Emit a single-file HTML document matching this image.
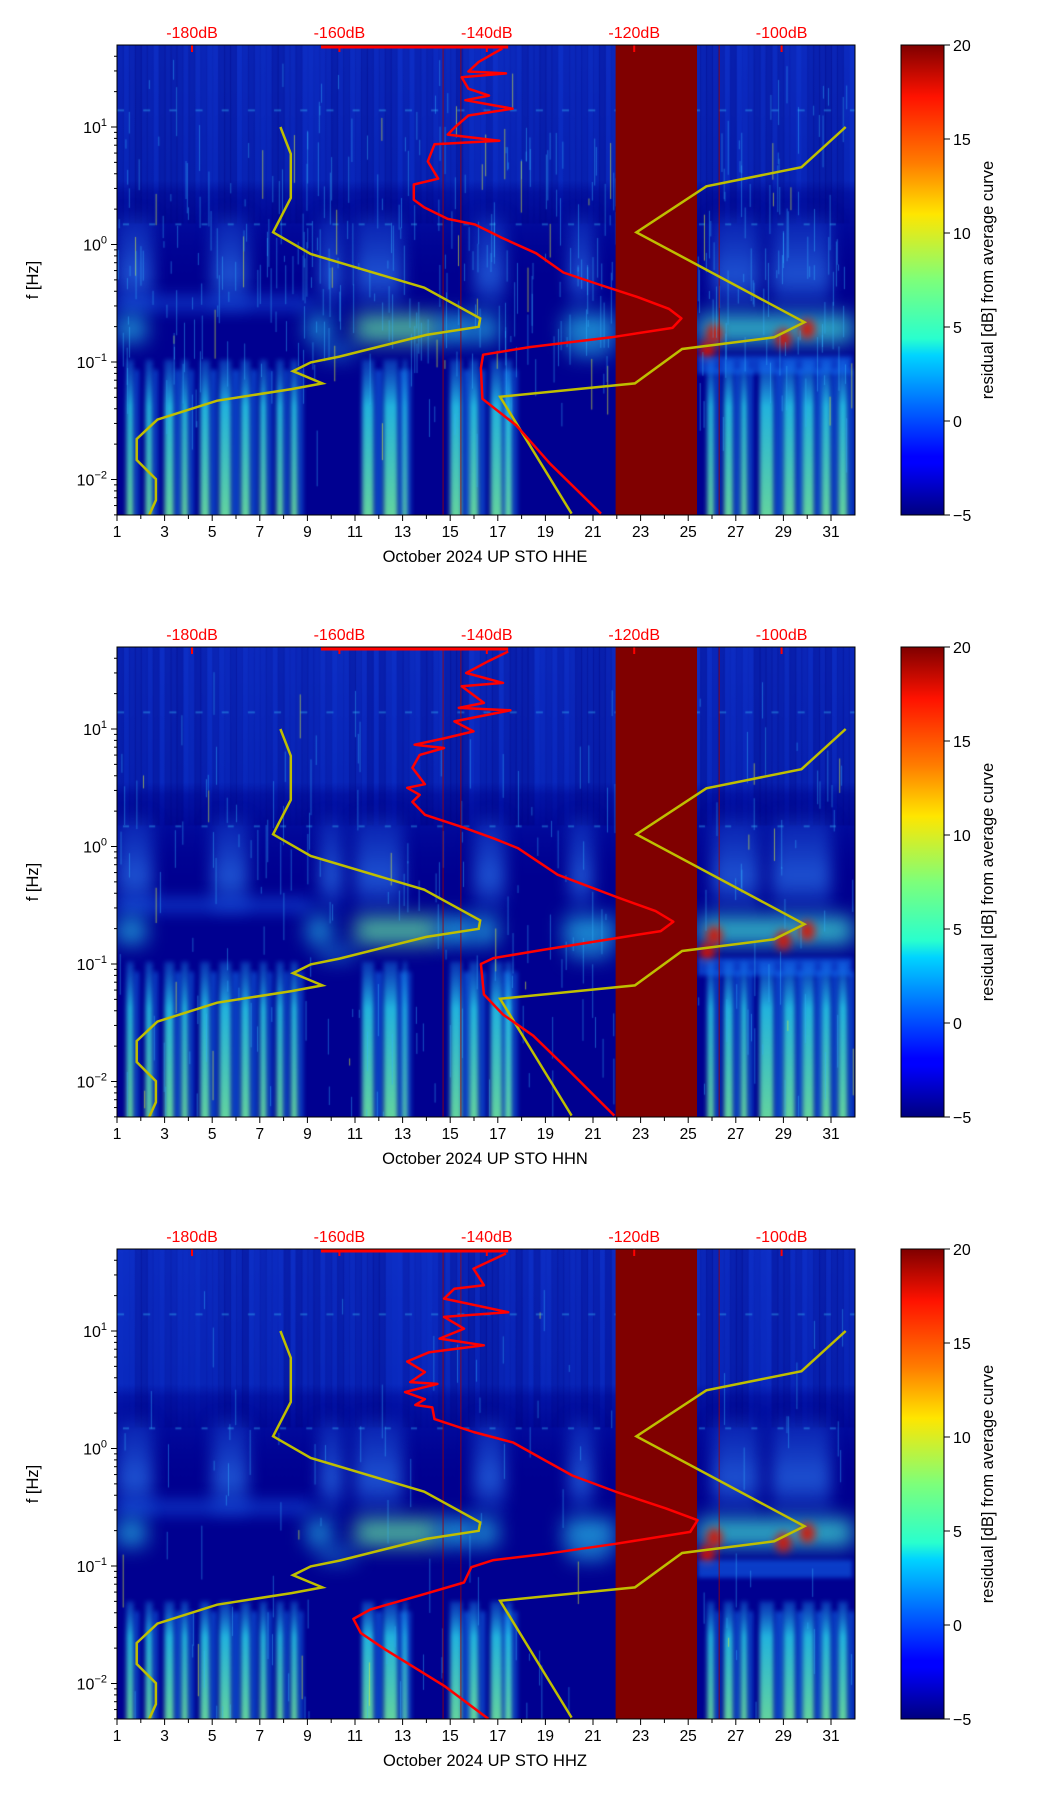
<!DOCTYPE html>
<html><head><meta charset="utf-8">
<style>
html,body{margin:0;padding:0;background:#fff;}
#wrap{position:relative;width:1052px;height:1806px;overflow:hidden;font-family:"Liberation Sans",sans-serif;}
canvas,svg{position:absolute;left:0;top:0;}
</style></head>
<body>
<div id="wrap">
<canvas id="bg" width="1052" height="1806"></canvas>
<svg id="fg" width="1052" height="1806" xmlns="http://www.w3.org/2000/svg"></svg>
</div>
<script>
// ---------- data ----------
const panelTitles = ["October 2024 UP STO  HHE","October 2024 UP STO  HHN","October 2024 UP STO  HHZ"];
const dayTickLabels = [1,3,5,7,9,11,13,15,17,19,21,23,25,27,29,31];
const dbTickLabels = [-180,-160,-140,-120,-100];
const yTickExp = [1,0,-1,-2];
const cbarTicks = [20,15,10,5,0,-5];
const gapDays = [21.95,25.37];
// low noise model (dB, log10 f)
const nlnmDb = [-168.0,-166.6,-166.6,-169.0,-163.9,-148.5,-140.9,-141.1,-148.2,-160.0,-163.9,-166.3,-162.3,-166.5,-176.6,-184.7,-187.5,-187.5,-184.9,-184.9,-185.8];
const nlnmLogF = [1.0,0.772,0.397,0.104,-0.081,-0.368,-0.629,-0.700,-0.769,-0.954,-1.003,-1.078,-1.182,-1.231,-1.329,-1.49,-1.655,-1.834,-1.997,-2.176,-2.3];
// high noise model
const nhnmDb = [-91.3,-97.3,-110.2,-119.7,-96.9,-101.0,-113.5,-119.9,-138.2,-128.5];
const nhnmLogF = [1.0,0.658,0.495,0.104,-0.661,-0.79,-0.889,-1.182,-1.296,-2.29];
// average curves per channel
const avgDbHHE = [-137.9,-139.3,-141.1,-142.5,-137.4,-143.4,-142.5,-139.7,-142.9,-136.5,-142.5,-144.3,-145.3,-138.3,-147.1,-148.0,-146.6,-149.9,-149.9,-148.5,-145.3,-141.6,-137.9,-133.3,-129.6,-125.0,-119.4,-115.3,-113.6,-114.8,-123.1,-134.2,-140.5,-140.8,-140.6,-136.0,-131.4,-124.5];
const avgLogFHHE = [1.668,1.619,1.554,1.472,1.456,1.423,1.326,1.267,1.228,1.156,1.098,1.0,0.935,0.883,0.853,0.707,0.56,0.511,0.381,0.316,0.218,0.17,0.055,-0.075,-0.238,-0.336,-0.45,-0.547,-0.629,-0.71,-0.79,-0.873,-0.938,-1.052,-1.313,-1.54,-1.866,-2.29];
const avgDbHHN = [-137.1,-139.8,-142.8,-137.8,-143.4,-140.4,-143.8,-136.8,-144.4,-141.8,-145.8,-149.8,-145.8,-149.1,-150.1,-148.4,-150.8,-149.1,-150.1,-148.4,-143.1,-139.1,-135.8,-130.4,-122.4,-117.1,-114.7,-116.4,-122.4,-132.4,-139.1,-140.8,-140.4,-137.8,-133.7,-129.1,-122.7];
const avgLogFHHN = [1.66,1.577,1.477,1.392,1.364,1.222,1.18,1.159,1.065,0.98,0.92,0.866,0.838,0.78,0.67,0.53,0.50,0.44,0.38,0.27,0.16,0.07,-0.014,-0.24,-0.43,-0.55,-0.64,-0.72,-0.78,-0.88,-0.95,-1.0,-1.26,-1.43,-1.61,-1.89,-2.29];
const avgDbHHZ = [-137.4,-141.8,-140.4,-144.4,-145.8,-137.1,-145.8,-143.1,-146.4,-140.4,-147.8,-150.8,-148.4,-150.4,-146.7,-151.1,-148.4,-149.7,-147.4,-147.1,-141.8,-136.4,-132.4,-128.4,-122.4,-115.7,-111.4,-112.4,-122.4,-132.4,-139.1,-142.1,-143.1,-149.1,-155.8,-158.1,-157.1,-153.8,-145.8,-139.8];
const avgLogFHHZ = [1.66,1.53,1.39,1.36,1.276,1.16,1.12,1.02,0.935,0.878,0.82,0.74,0.65,0.565,0.55,0.48,0.42,0.37,0.35,0.25,0.14,0.05,-0.09,-0.23,-0.37,-0.51,-0.61,-0.71,-0.81,-0.90,-0.95,-1.01,-1.14,-1.25,-1.37,-1.45,-1.57,-1.71,-2.02,-2.30];
const avgTopLineDb = [-162.5,-137.1];
// spectrogram features (days / log f)
const lowStripeDay = [1.4,2.2,3.0,3.7,4.5,5.3,6.2,7.0,7.7,8.3,11.3,12.2,13.0,15.0,15.8,16.7,17.3,25.8,26.5,27.2,28.0,29.0,29.8,30.6,31.3];
const lowStripeWidth = [0.3,0.3,0.4,0.3,0.4,0.5,0.4,0.3,0.3,0.3,0.5,0.6,0.2,0.5,0.4,0.5,0.3,0.3,0.4,0.3,0.6,0.5,0.5,0.4,0.4];
const bandStart = [1.0,9.0,11.0,14.5,16.0,19.8,25.4];
const bandEnd = [2.2,10.0,14.5,16.0,17.0,21.9,31.9];
const plumeStart = [1,5,9.5,11,16,20,26,28.5];
const plumeEnd = [2.5,6.5,10.5,13,17.3,21,28,31];

const series = [[avgDbHHE,avgLogFHHE],[avgDbHHN,avgLogFHHN],[avgDbHHZ,avgLogFHHZ]];
const tops = [45,647,1249];
const PL=117, PW=738, PH=470, DAYPX=23.8;
const X = d => PL + (d-1)*DAYPX;
const XDB = db => 192 + (db+180)*7.37;
const mkY = top => lf => top + 82 - (lf-1)*117.5;

// ---------- background spectrogram ----------
const bg = document.getElementById('bg');
const ctx = bg.getContext('2d');
let seed = 12345;
function rnd(){ seed = (seed*1103515245+12345) & 0x7fffffff; return seed/0x7fffffff; }

function paint(top, idx){
  const Y = mkY(top);
  ctx.save();
  ctx.beginPath(); ctx.rect(PL,top,PW,PH); ctx.clip();
  ctx.fillStyle = '#000090'; ctx.fillRect(PL,top,PW,PH);
  // upper speckled region
  let g = ctx.createLinearGradient(0,Y(1.7),0,Y(-0.4));
  g.addColorStop(0,'rgb(14,48,200)'); g.addColorStop(0.55,'rgb(10,42,192)');
  g.addColorStop(0.6,'rgb(4,22,170)'); g.addColorStop(1,'rgba(0,0,144,0)');
  ctx.fillStyle = g; ctx.fillRect(PL,Y(1.7),PW,Y(-0.4)-Y(1.7));
  // vary brightness per day column (texture)
  for(let d=1; d<32; d+=0.25){
    ctx.fillStyle = 'rgba(0,0,120,'+(rnd()*0.35).toFixed(2)+')';
    ctx.fillRect(X(d),Y(1.7),DAYPX*0.25+1,Y(0.18)-Y(1.7));
  }
  ctx.filter = 'blur(8px)';
  // plumes
  for(let i=0;i<plumeStart.length;i++){
    let pg = ctx.createLinearGradient(0,Y(0.25),0,Y(-0.62));
    pg.addColorStop(0,'rgba(40,120,255,0.2)'); pg.addColorStop(0.6,'rgba(50,140,255,0.6)'); pg.addColorStop(1,'rgba(40,130,255,0)');
    ctx.fillStyle = pg; ctx.fillRect(X(plumeStart[i]),Y(0.25),X(plumeEnd[i])-X(plumeStart[i]),Y(-0.62)-Y(0.25));
  }
  // cloud edge days 1-9
  ctx.fillStyle='rgba(30,110,255,0.55)'; ctx.fillRect(X(1),Y(-0.45),X(9.2)-X(1),Y(-0.55)-Y(-0.45));
  ctx.filter = 'blur(10px)';
  // band 0.15-0.25 Hz
  for(let i=0;i<bandStart.length;i++){
    ctx.fillStyle = i===6 ? 'rgba(60,220,210,0.8)' : (i===2 ? 'rgba(100,235,160,0.75)' : 'rgba(40,200,240,0.7)');
    ctx.fillRect(X(bandStart[i]),Y(-0.6),X(bandEnd[i])-X(bandStart[i]),Y(-0.83)-Y(-0.6));
  }
  ctx.fillStyle='rgba(40,190,240,0.6)';
  ctx.fillRect(X(9.5),Y(-0.86),X(11)-X(9.5),Y(-0.96)-Y(-0.86));
  ctx.fillRect(X(20),Y(-0.8),X(21.7)-X(20),Y(-0.95)-Y(-0.8));
  ctx.filter = 'blur(4px)';
  // red spots
  ctx.fillStyle='rgba(220,20,0,0.9)';
  [[25.8,-0.9],[29.0,-0.8],[30.0,-0.72],[26.1,-0.76]].forEach(p=>{ctx.beginPath();ctx.ellipse(X(p[0]),Y(p[1]),8,10,0,0,7);ctx.fill();});
  ctx.filter='blur(2px)';
  // low frequency stripes
  const st = idx===2 ? -1.3 : -0.98;
  for(let i=0;i<lowStripeDay.length;i++){
    const x0 = X(lowStripeDay[i]), w = lowStripeWidth[i]*DAYPX;
    let sg = ctx.createLinearGradient(0,Y(st),0,Y(-2.3));
    sg.addColorStop(0,'rgba(30,160,255,0.3)'); sg.addColorStop(0.3,'rgba(40,210,235,0.85)'); sg.addColorStop(1,'rgba(110,235,160,0.9)');
    ctx.fillStyle = sg; ctx.fillRect(x0,Y(st),w,Y(-2.35)-Y(st));
    ctx.fillStyle = 'rgba(20,130,255,0.5)'; ctx.fillRect(x0+w+1,Y(st)+10,w*0.6,Y(-2.35)-Y(st));
  }
  ctx.fillStyle='rgba(20,120,255,0.5)'; ctx.fillRect(X(25.4),Y(-0.95),X(31.9)-X(25.4),Y(-1.1)-Y(-0.95));
  ctx.filter='none';
  // speckle (decorative texture)
  for(let k=0;k<420;k++){
    const d = 1+rnd()*31, len = 6+rnd()*50, y0 = Y(1.7)+rnd()*Y(0.2)-rnd()*Y(1.7)*0+ (rnd()*(Y(0.2)-Y(1.7)));
    const c = rnd();
    ctx.strokeStyle = c>0.9 ? 'rgba(220,240,60,0.6)' : 'rgba(50,180,255,0.45)';
    ctx.lineWidth = 1;
    ctx.beginPath(); ctx.moveTo(X(d),y0-Y(1.7)+Y(1.7)); ctx.lineTo(X(d),y0+len); ctx.stroke();
  }
  ctx.fillStyle='rgba(60,200,255,0.35)';
  for(let d=1; d<32; d+=1.1){ ctx.fillRect(X(d),Y(1.15),7,2); ctx.fillRect(X(d)+6,Y(0.18),6,2); }
  ctx.restore();
}
tops.forEach((t,i)=>paint(t,i));

// ---------- SVG overlay ----------
const svg = document.getElementById('fg');
const NS = 'http://www.w3.org/2000/svg';
function el(tag, attrs, parent){ const e=document.createElementNS(NS,tag); for(const k in attrs) e.setAttribute(k,attrs[k]); (parent||svg).appendChild(e); return e; }

const defs = el('defs',{});
const jg = el('linearGradient',{id:'jet',x1:'0',y1:'1',x2:'0',y2:'0'},defs);
[['0','#00007f'],['0.11','#0000ff'],['0.125','#0000ff'],['0.34','#00d4ff'],['0.375','#29ffce'],['0.5','#7dff7a'],['0.64','#ffe600'],['0.75','#ff7b00'],['0.89','#ff1200'],['1','#7f0000']].forEach(s=>el('stop',{offset:s[0],'stop-color':s[1]},jg));

tops.forEach((top,pi)=>{
  const Y = mkY(top);
  const g = el('g',{});
  
  
  const gap = el('rect',{x:X(gapDays[0]),y:top,width:X(gapDays[1])-X(gapDays[0]),height:PH,fill:'#800000'},g);
  
  
  [14.7,15.45,26.3].forEach(d=>el('line',{x1:X(d),x2:X(d),y1:top,y2:top+PH,stroke:'#a00000','stroke-width':0.8},g));
  const pts = (dbs,lfs)=>dbs.map((v,i)=>XDB(v).toFixed(1)+','+Y(lfs[i]).toFixed(1)).join(' ');
  const cp = el('clipPath',{id:'cp'+pi},defs); el('rect',{x:PL,y:top,width:PW,height:PH},cp);
  const lg = el('g',{'clip-path':'url(#cp'+pi+')'},g);
  const l1 = el('polyline',{points:pts(nlnmDb,nlnmLogF),fill:'none',stroke:'#bfbf00','stroke-width':2.5},lg);
  
  
  const l2 = el('polyline',{points:pts(nhnmDb,nhnmLogF),fill:'none',stroke:'#bfbf00','stroke-width':2.5},lg);
  
  
  const l3 = el('polyline',{points:pts(series[pi][0],series[pi][1]),fill:'none',stroke:'#ff0000','stroke-width':2.5,'stroke-linejoin':'round'},lg);
  
  
  el('line',{x1:XDB(avgTopLineDb[0]),x2:XDB(avgTopLineDb[1]),y1:top+2,y2:top+2,stroke:'#ff0000','stroke-width':3},lg);
  dbTickLabels.forEach(v=>{
    el('line',{x1:XDB(v),x2:XDB(v),y1:top,y2:top+7,stroke:'#ff0000','stroke-width':2},g);
    const t = el('text',{x:XDB(v),y:top-7,'text-anchor':'middle','font-size':'16',fill:'#ff0000'},g);
    t.textContent = v+'dB';
    
    
  });
  el('rect',{x:PL,y:top,width:PW,height:PH,fill:'none',stroke:'#000','stroke-width':1},g);
  for(let d=1; d<=31; d++){ el('line',{x1:X(d),x2:X(d),y1:top+PH,y2:top+PH+(d%2?6:4),stroke:'#000'},g); }
  dayTickLabels.forEach(d=>{
    const t = el('text',{x:X(d),y:top+PH+22,'text-anchor':'middle','font-size':'15.5'},g);
    t.textContent = d;
    
    
  });
  const xt = el('text',{x:485,y:top+PH+47,'text-anchor':'middle','font-size':'16.5'},g);
  xt.textContent = panelTitles[pi];
  
  
  for(let e=-3;e<=1;e++){
    for(let m=1;m<10;m++){
      const lf = e+Math.log10(m); const y=Y(lf);
      if(y<top||y>top+PH) continue;
      el('line',{x1:PL-(m===1?6:3),x2:PL,y1:y,y2:y,stroke:'#000'},g);
    }
  }
  yTickExp.forEach(e=>{
    const t = el('text',{x:PL-10,y:Y(e)+6,'text-anchor':'end','font-size':'16'},g);
    
    
    const a = el('tspan',{},t); a.textContent='10';
    const b = el('tspan',{dy:'-7','font-size':'11'},t); b.textContent = e<0 ? '\u2212'+(-e) : String(e);
  });
  const yt = el('text',{x:0,y:0,'text-anchor':'middle','font-size':'16.5',transform:'translate(38,'+(top+235)+') rotate(-90)'},g);
  yt.textContent='f [Hz]';
  
  
  const cb = el('rect',{x:901,y:top,width:43,height:PH,fill:'url(#jet)',stroke:'#000','stroke-width':1},g);
  
  
  cbarTicks.forEach((v,i)=>{
    const y = top + i*PH/5;
    el('line',{x1:944,x2:950,y1:y,y2:y,stroke:'#000'},g);
    const t = el('text',{x:953,y:y+6,'font-size':'16'},g);
    t.textContent = v<0 ? '\u2212'+(-v) : String(v);
    
    
  });
  const ct = el('text',{x:0,y:0,'text-anchor':'middle','font-size':'16.5',transform:'translate(993,'+(top+235)+') rotate(-90)'},g);
  ct.textContent='residual [dB] from average curve';
  
  
});
</script>
</body></html>
